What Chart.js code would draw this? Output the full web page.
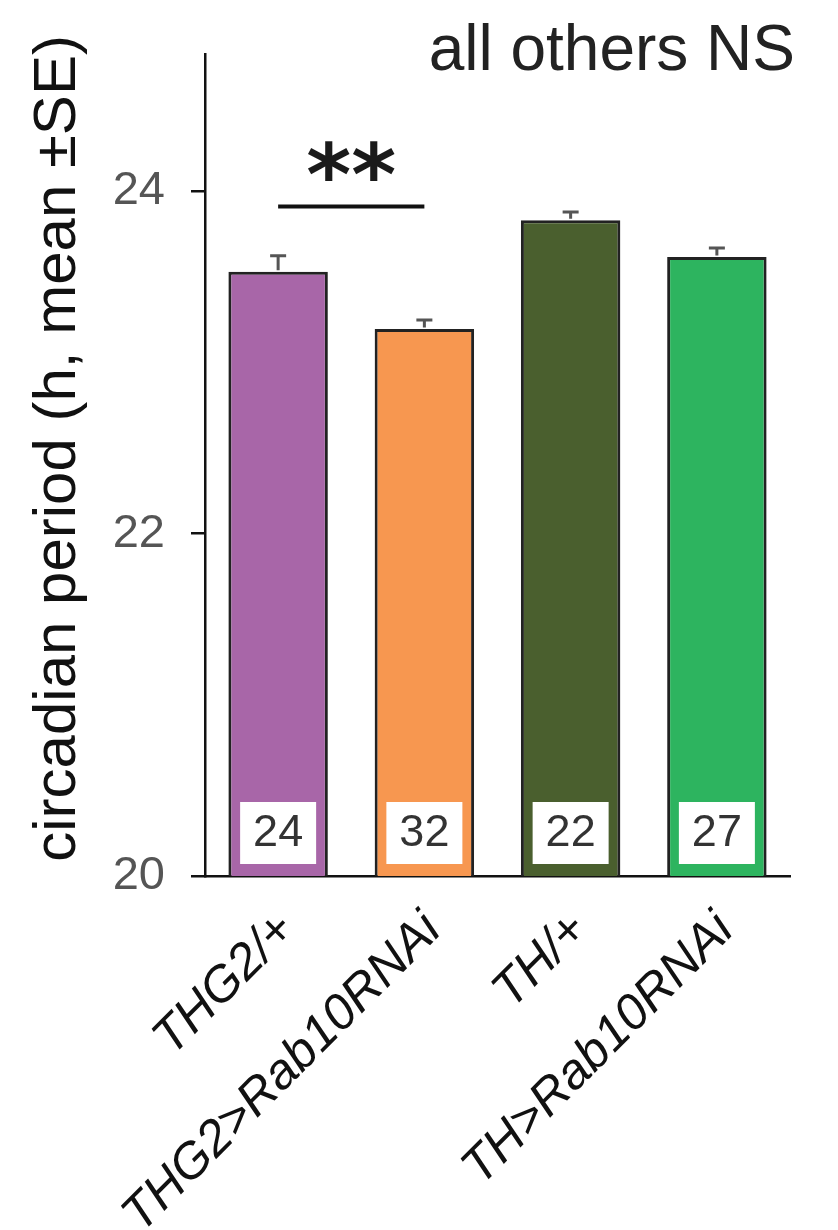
<!DOCTYPE html>
<html>
<head>
<meta charset="utf-8">
<script src="https://cdn.jsdelivr.net/npm/chart.js@4/dist/chart.umd.min.js"></script>
<style>
  html, body { margin: 0; padding: 0; background: #fff; }
  #wrap { width: 838px; height: 1230px; }
</style>
</head>
<body>
<div id="wrap"><canvas id="chart" width="838" height="1230"></canvas></div>
<script>
const genotypes = ['THG2/+', 'THG2>Rab10RNAi', 'TH/+', 'TH>Rab10RNAi'];
const periodMeans = [23.53, 23.195, 23.83, 23.615];
const periodSE = [0.093, 0.053, 0.048, 0.053];
const flyCounts = [24, 32, 22, 27];
const yTicks = [20, 22, 24];
const sigPair = [0, 1];
const sigLevel = 23.91;
const sigText = '**';
const noteText = 'all others NS';

const barColors = ['#a866a8', '#f79750', '#4a5f2e', '#2db45f'];
const FONT = '"Liberation Sans", Arial, Helvetica, sans-serif';

// error bars, n boxes, significance mark, corner note
const extras = {
    id: 'extras',
    afterDatasetsDraw(chart) {
        const ctx = chart.ctx;
        const y = chart.scales.y;
        const bars = chart.getDatasetMeta(0).data;
        ctx.save();

        // SE (upper half only)
        ctx.strokeStyle = '#555';
        ctx.lineWidth = 3;
        bars.forEach((bar, i) => {
            const yb = y.getPixelForValue(periodMeans[i]);
            const yt = y.getPixelForValue(periodMeans[i] + periodSE[i]);
            ctx.beginPath();
            ctx.moveTo(bar.x, yb - 1.5);
            ctx.lineTo(bar.x, yt);
            ctx.moveTo(bar.x - 8, yt);
            ctx.lineTo(bar.x + 8, yt);
            ctx.stroke();
        });

        // n per genotype
        const base = y.getPixelForValue(20);
        ctx.font = '45px ' + FONT;
        ctx.textAlign = 'center';
        ctx.textBaseline = 'middle';
        bars.forEach((bar, i) => {
            ctx.fillStyle = '#fff';
            ctx.fillRect(bar.x - 38, base - 74, 76, 62);
            ctx.fillStyle = '#333';
            ctx.fillText(String(flyCounts[i]), bar.x, base - 42);
        });

        // significance
        const ys = y.getPixelForValue(sigLevel);
        const x0 = bars[sigPair[0]].x, x1 = bars[sigPair[1]].x;
        ctx.strokeStyle = '#111';
        ctx.lineWidth = 4;
        ctx.beginPath();
        ctx.moveTo(x0, ys);
        ctx.lineTo(x1, ys);
        ctx.stroke();
        ctx.font = 'bold 86px "DejaVu Sans", sans-serif';
        ctx.textBaseline = 'alphabetic';
        ctx.fillStyle = '#1a1a1a';
        const m = ctx.measureText(sigText);
        ctx.fillText(sigText, (x0 + x1) / 2, ys - 26 - m.actualBoundingBoxDescent);

        // note
        ctx.font = '64px ' + FONT;
        ctx.textAlign = 'right';
        ctx.fillStyle = '#222';
        ctx.fillText(noteText, chart.chartArea.right + 5, 70);
        ctx.restore();
    }
};

new Chart(document.getElementById('chart'), {
    type: 'bar',
    data: {
        labels: genotypes,
        datasets: [{
            data: periodMeans,
            backgroundColor: barColors,
            borderColor: '#222',
            borderWidth: 3,
            borderSkipped: false,
            barPercentage: 0.68,
            categoryPercentage: 1
        }]
    },
    options: {
        responsive: false,
        animation: false,
        layout: { padding: { top: 52, right: 48, left: 0, bottom: 0 } },
        plugins: { legend: { display: false }, tooltip: { enabled: false } },
        scales: {
            x: {
                grid: { display: false },
                border: { display: true, color: '#111', width: 2.5 },
                ticks: {
                    color: '#111',
                    font: { family: FONT, size: 50, style: 'italic' },
                    minRotation: 45,
                    maxRotation: 45,
                    labelOffset: 9,
                    padding: 17
                },
                afterFit(s) { s.height = 354; }
            },
            y: {
                min: 20,
                max: 24.8,
                afterBuildTicks(s) { s.ticks = yTicks.map(v => ({ value: v })); },
                grid: { drawOnChartArea: false, color: '#111', lineWidth: 2.5, tickLength: 14 },
                border: { color: '#111', width: 2.5 },
                ticks: { color: '#555', font: { family: FONT, size: 47 }, padding: 26 },
                title: {
                    display: true,
                    // two leading spaces nudge the label up, as in the figure
                    text: '\u00a0\u00a0circadian period (h, mean ±SE)',
                    color: '#111',
                    font: { family: FONT, size: 60 },
                    padding: { top: 22 }
                },
                afterFit(s) { s.width = 205; }
            }
        }
    },
    plugins: [extras]
});
</script>
</body>
</html>
